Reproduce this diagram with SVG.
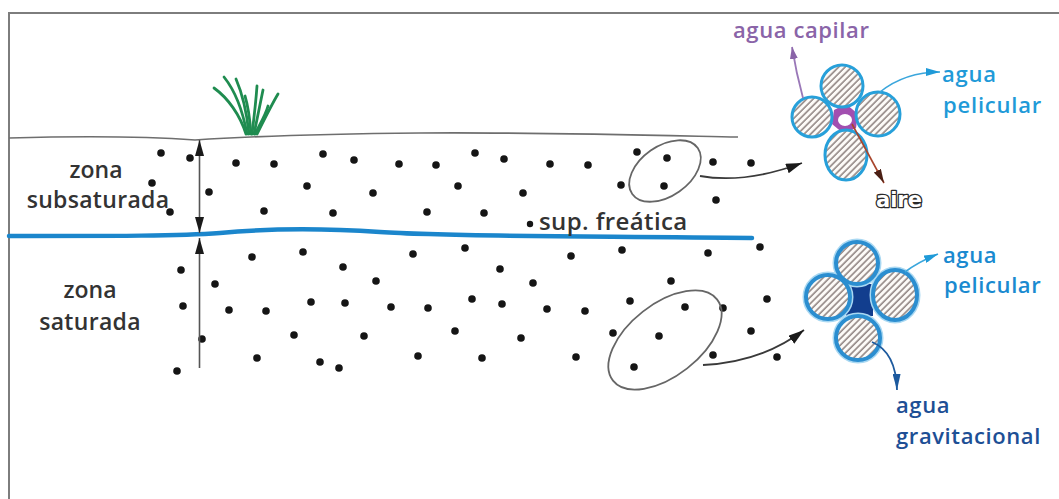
<svg xmlns="http://www.w3.org/2000/svg" width="1059" height="499" viewBox="0 0 1059 499">
  <defs>
    <style>
      .frame{fill:none;stroke:#7d7d7d;stroke-width:2}
      .ground{fill:none;stroke:#6e6e6e;stroke-width:1.6}
      .water{fill:none;stroke:#1b86cc;stroke-width:4.5;stroke-linecap:round}
      .dot{fill:#151515}
      .axis{fill:none;stroke:#555;stroke-width:1.6}
      .loop{fill:none;stroke:#666;stroke-width:1.8}
      .conn{fill:none;stroke:#3a3a3a;stroke-width:1.8}
      .blade{fill:none;stroke:#1f8c50;stroke-width:2.8;stroke-linecap:round}
      .lbl{font-family:"Open Sans","DejaVu Sans",sans-serif;font-weight:600}
      .dark{fill:#333}
      .lobe{fill:url(#hatch)}
      .rim1{fill:none;stroke:#27a0da;stroke-width:3}
      .rim2{fill:none;stroke:#2b8ed0;stroke-width:4}
      .halo{fill:none;stroke:#a9d8f2;stroke-width:7}
    </style>
    <pattern id="hatch" patternUnits="userSpaceOnUse" width="4.6" height="4.6" patternTransform="rotate(45)">
      <rect width="4.6" height="4.6" fill="#fdfbf8"/>
      <line x1="1" y1="0" x2="1" y2="4.6" stroke="#5a4a48" stroke-width="1.05"/>
    </pattern>
    <marker id="tipDark" viewBox="0 0 10 10" refX="10" refY="5" markerUnits="userSpaceOnUse" markerWidth="16" markerHeight="10" orient="auto-start-reverse" preserveAspectRatio="none">
      <path d="M0,0 L10,5 L0,10 Z" fill="#1a1a1a"/>
    </marker>
    <marker id="tipAxis" viewBox="0 0 10 10" refX="10" refY="5" markerUnits="userSpaceOnUse" markerWidth="16" markerHeight="9" orient="auto-start-reverse" preserveAspectRatio="none">
      <path d="M0,0 L10,5 L0,10 Z" fill="#1a1a1a"/>
    </marker>
    <marker id="tipCyan" viewBox="0 0 10 10" refX="10" refY="5" markerUnits="userSpaceOnUse" markerWidth="14" markerHeight="8" orient="auto" preserveAspectRatio="none">
      <path d="M0,0 L10,5 L0,10 Z" fill="#1f9ad8"/>
    </marker>
    <marker id="tipPurple" viewBox="0 0 10 10" refX="10" refY="5" markerUnits="userSpaceOnUse" markerWidth="12" markerHeight="8" orient="auto" preserveAspectRatio="none">
      <path d="M0,0 L10,5 L0,10 Z" fill="#8a64a8"/>
    </marker>
    <marker id="tipBrown" viewBox="0 0 10 10" refX="10" refY="5" markerUnits="userSpaceOnUse" markerWidth="14" markerHeight="8" orient="auto" preserveAspectRatio="none">
      <path d="M0,0 L10,5 L0,10 Z" fill="#4a1f14"/>
    </marker>
    <marker id="tipNavy" viewBox="0 0 10 10" refX="10" refY="5" markerUnits="userSpaceOnUse" markerWidth="16" markerHeight="8" orient="auto" preserveAspectRatio="none">
      <path d="M0,0 L10,5 L0,10 Z" fill="#1d5a9e"/>
    </marker>
  </defs>

  <rect width="1059" height="499" fill="#fff"/>
  <rect class="frame" x="9" y="13" width="1060" height="500"/>

  <!-- soil profile -->
  <g id="soil">
    <path class="ground" d="M9,138 C80,136 140,136 195,140 C240,137 320,134 420,133 C520,132 640,135 738,137"/>
    <path class="water" d="M9,236 C120,236 180,236 220,233 C262,229 320,228 380,232 C450,237 600,236 752,238"/>
    <g id="grass">
      <path class="blade" d="M246,134 C240,115 228,98 214,88"/>
      <path class="blade" d="M247,134 C243,112 236,92 224,77"/>
      <path class="blade" d="M249,134 C247,115 243,95 236,79"/>
      <path class="blade" d="M251,134 C250,120 248,106 245,96"/>
      <path class="blade" d="M252,134 C254,118 256,100 257,86"/>
      <path class="blade" d="M254,134 C257,120 260,104 263,90"/>
      <path class="blade" d="M255,134 C260,124 266,114 268,106"/>
      <path class="blade" d="M257,134 C264,120 272,104 278,94"/>
    </g>
  </g>

  <!-- soil particles -->
  <g id="particles">
    <circle class="dot" cx="161" cy="153" r="3.8"/><circle class="dot" cx="190" cy="158" r="3.8"/><circle class="dot" cx="236" cy="163" r="3.8"/><circle class="dot" cx="274" cy="164" r="3.8"/><circle class="dot" cx="323" cy="154" r="3.8"/><circle class="dot" cx="354" cy="160" r="3.8"/><circle class="dot" cx="399" cy="164" r="3.8"/><circle class="dot" cx="436" cy="165" r="3.8"/><circle class="dot" cx="475" cy="153" r="3.8"/><circle class="dot" cx="504" cy="159" r="3.8"/><circle class="dot" cx="550" cy="164" r="3.8"/><circle class="dot" cx="588" cy="165" r="3.8"/><circle class="dot" cx="637" cy="152" r="3.8"/><circle class="dot" cx="667" cy="158" r="3.8"/><circle class="dot" cx="713" cy="162" r="3.8"/><circle class="dot" cx="751" cy="163" r="3.8"/>
    <circle class="dot" cx="152" cy="183" r="3.8"/><circle class="dot" cx="209" cy="192" r="3.8"/><circle class="dot" cx="307" cy="186" r="3.8"/><circle class="dot" cx="373" cy="193" r="3.8"/><circle class="dot" cx="458" cy="186" r="3.8"/><circle class="dot" cx="523" cy="193" r="3.8"/><circle class="dot" cx="621" cy="185" r="3.8"/><circle class="dot" cx="664" cy="186" r="3.8"/><circle class="dot" cx="716" cy="200" r="3.8"/>
    <circle class="dot" cx="170" cy="212" r="3.8"/><circle class="dot" cx="264" cy="211" r="3.8"/><circle class="dot" cx="333" cy="213" r="3.8"/><circle class="dot" cx="427" cy="212" r="3.8"/><circle class="dot" cx="484" cy="213" r="3.8"/><circle class="dot" cx="530" cy="224" r="3.2"/>
    <circle class="dot" cx="252" cy="257" r="3.8"/><circle class="dot" cx="303" cy="252" r="3.8"/><circle class="dot" cx="413" cy="254" r="3.8"/><circle class="dot" cx="465" cy="248" r="3.8"/><circle class="dot" cx="571" cy="256" r="3.8"/><circle class="dot" cx="622" cy="250" r="3.8"/><circle class="dot" cx="708" cy="253" r="3.8"/><circle class="dot" cx="760" cy="247" r="3.8"/>
    <circle class="dot" cx="181" cy="270" r="3.8"/><circle class="dot" cx="343" cy="267" r="3.8"/><circle class="dot" cx="500" cy="269" r="3.8"/>
    <circle class="dot" cx="215" cy="284" r="3.8"/><circle class="dot" cx="376" cy="281" r="3.8"/><circle class="dot" cx="533" cy="283" r="3.8"/><circle class="dot" cx="671" cy="281" r="3.8"/>
    <circle class="dot" cx="183" cy="306" r="3.8"/><circle class="dot" cx="229" cy="310" r="3.8"/><circle class="dot" cx="266" cy="311" r="3.8"/><circle class="dot" cx="311" cy="302" r="3.8"/><circle class="dot" cx="345" cy="303" r="3.8"/><circle class="dot" cx="391" cy="307" r="3.8"/><circle class="dot" cx="428" cy="308" r="3.8"/><circle class="dot" cx="472" cy="299" r="3.8"/><circle class="dot" cx="502" cy="304" r="3.8"/><circle class="dot" cx="547" cy="309" r="3.8"/><circle class="dot" cx="585" cy="311" r="3.8"/><circle class="dot" cx="630" cy="301" r="3.8"/><circle class="dot" cx="685" cy="307" r="3.8"/><circle class="dot" cx="723" cy="308" r="3.8"/><circle class="dot" cx="767" cy="299" r="3.8"/>
    <circle class="dot" cx="202" cy="339" r="3.8"/><circle class="dot" cx="294" cy="335" r="3.8"/><circle class="dot" cx="364" cy="336" r="3.8"/><circle class="dot" cx="455" cy="331" r="3.8"/><circle class="dot" cx="521" cy="338" r="3.8"/><circle class="dot" cx="613" cy="333" r="3.8"/><circle class="dot" cx="659" cy="336" r="3.8"/><circle class="dot" cx="751" cy="331" r="3.8"/>
    <circle class="dot" cx="257" cy="358" r="3.8"/><circle class="dot" cx="320" cy="362" r="3.8"/><circle class="dot" cx="339" cy="368" r="3.8"/><circle class="dot" cx="418" cy="356" r="3.8"/><circle class="dot" cx="482" cy="358" r="3.8"/><circle class="dot" cx="576" cy="357" r="3.8"/><circle class="dot" cx="634" cy="367" r="3.8"/><circle class="dot" cx="713" cy="355" r="3.8"/><circle class="dot" cx="777" cy="357" r="3.8"/>
    <circle class="dot" cx="177" cy="371" r="3.8"/>
  </g>

  <!-- sample areas -->
  <g id="sample-upper">
    <ellipse class="loop" cx="665" cy="171" rx="40" ry="25" transform="rotate(-35 665 171)"/>
  </g>
  <g id="sample-lower">
    <ellipse class="loop" cx="665" cy="340" rx="66" ry="36" transform="rotate(-38 665 340)"/>
  </g>

  <!-- zone labels -->
  <g id="label-subsaturada" class="lbl dark" font-size="23" text-anchor="middle">
    <text x="96" y="178">zona</text>
    <text x="98" y="208" letter-spacing="0.3">subsaturada</text>
  </g>
  <g id="label-saturada" class="lbl dark" font-size="23" text-anchor="middle">
    <text x="90" y="298">zona</text>
    <text x="90" y="330" letter-spacing="0.3">saturada</text>
  </g>
  <g id="label-freatica">
    <text class="lbl dark" x="539" y="230" font-size="24" letter-spacing="0.4">sup. freática</text>
  </g>

  <!-- unsaturated pore detail -->
  <g id="pore-unsaturated">
    <path d="M834,110 L846,104 L858,114 L856,128 L844,134 L832,124 Z" fill="#a24fb0"/>
    <ellipse cx="845" cy="120" rx="7" ry="6" fill="#fff"/>
    <circle class="lobe" cx="842" cy="86" r="21"/><circle class="rim1" cx="842" cy="86" r="21"/>
    <circle class="lobe" cx="812" cy="117" r="20"/><circle class="rim1" cx="812" cy="117" r="20"/>
    <circle class="lobe" cx="878" cy="114" r="22"/><circle class="rim1" cx="878" cy="114" r="22"/>
    <ellipse class="lobe" cx="846" cy="155" rx="21" ry="25"/><ellipse class="rim1" cx="846" cy="155" rx="21" ry="25"/>
  </g>

  <!-- saturated pore detail -->
  <g id="pore-saturated">
    <rect x="846" y="284" width="27" height="32" fill="#123e8e"/>
    <circle class="halo" cx="857" cy="263" r="21"/><circle class="halo" cx="828" cy="297" r="22"/>
    <ellipse class="halo" cx="895" cy="295" rx="22" ry="25"/><circle class="halo" cx="858" cy="338" r="22"/>
    <circle class="lobe" cx="857" cy="263" r="21"/><circle class="rim2" cx="857" cy="263" r="21"/>
    <circle class="lobe" cx="828" cy="297" r="22"/><circle class="rim2" cx="828" cy="297" r="22"/>
    <ellipse class="lobe" cx="895" cy="295" rx="22" ry="25"/><ellipse class="rim2" cx="895" cy="295" rx="22" ry="25"/>
    <circle class="lobe" cx="858" cy="338" r="22"/><circle class="rim2" cx="858" cy="338" r="22"/>
  </g>

  <!-- water-type labels -->
  <g id="label-capilar">
    <text class="lbl" x="733" y="38" font-size="22" letter-spacing="0.6" fill="#8a64a8">agua capilar</text>
  </g>
  <g id="label-pelicular-1" class="lbl" font-size="22" letter-spacing="0.8" fill="#1f9ad8">
    <text x="942" y="82">agua</text>
    <text x="943" y="113">pelicular</text>
  </g>
  <g id="label-aire">
    <text x="876" y="207" font-family="DejaVu Sans, sans-serif" font-weight="bold" font-size="21" fill="#fff" stroke="#2a2a2a" stroke-width="2.6" paint-order="stroke" stroke-linejoin="round">aire</text>
  </g>
  <g id="label-pelicular-2" class="lbl" font-size="22" letter-spacing="0.6" fill="#1a8ad0">
    <text x="943" y="263">agua</text>
    <text x="944" y="293">pelicular</text>
  </g>
  <g id="label-gravitacional" class="lbl" font-size="22" letter-spacing="0.6" fill="#1d4f95">
    <text x="896" y="413">agua</text>
    <text x="896" y="444">gravitacional</text>
  </g>

  <!-- connectors -->
  <g id="connectors">
    <line class="axis" x1="199.5" y1="140" x2="199.5" y2="233" marker-start="url(#tipAxis)" marker-end="url(#tipAxis)"/>
    <line class="axis" x1="199.5" y1="238" x2="199.5" y2="368" marker-start="url(#tipAxis)"/>
    <path class="conn" d="M700,176 Q745,184 802,163" marker-end="url(#tipDark)"/>
    <path class="conn" d="M703,365 Q762,362 804,330" marker-end="url(#tipDark)"/>
    <path d="M803,98 Q796,72 792,47" fill="none" stroke="#9a78b8" stroke-width="1.8" marker-end="url(#tipPurple)"/>
    <path d="M852,124 L884,183" fill="none" stroke="#a8452c" stroke-width="1.6" marker-end="url(#tipBrown)"/>
    <path d="M880,92 Q905,72 940,72" fill="none" stroke="#3aa6dc" stroke-width="1.6" marker-end="url(#tipCyan)"/>
    <path d="M905,272 Q918,262 938,254" fill="none" stroke="#3aa6dc" stroke-width="1.6" marker-end="url(#tipCyan)"/>
    <path d="M872,342 Q896,352 897,390" fill="none" stroke="#1d5a9e" stroke-width="1.8" marker-end="url(#tipNavy)"/>
  </g>
</svg>
